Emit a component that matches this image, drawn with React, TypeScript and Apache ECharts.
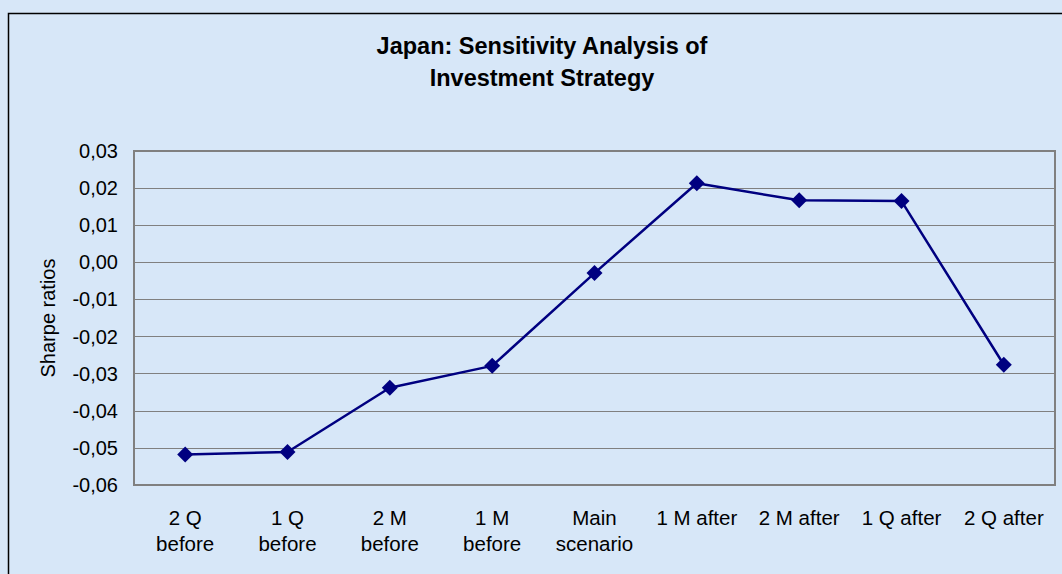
import React, { useEffect, useRef } from "react";
import * as echarts from "echarts";

const categories = [
  "2 Q\nbefore",
  "1 Q\nbefore",
  "2 M\nbefore",
  "1 M\nbefore",
  "Main\nscenario",
  "1 M after",
  "2 M after",
  "1 Q after",
  "2 Q after",
];
const sharpeRatios = [-0.0518, -0.0511, -0.0338, -0.0279, -0.0029, 0.0213, 0.0167, 0.0165, -0.0276];
const titleText = "Japan: Sensitivity Analysis of\nInvestment Strategy";
const yAxisName = "Sharpe ratios";

export default function App() {
  const ref = useRef<HTMLDivElement>(null);
  useEffect(() => {
    if (!ref.current) return;
    const chart = echarts.init(ref.current, null, { renderer: "svg" });
    const font = "'Liberation Sans', Arial, sans-serif";
    chart.setOption({
      animation: false,
      backgroundColor: "#d7e7f8",
      textStyle: { fontFamily: font },
      graphic: [
        {
          type: "rect",
          shape: { x: 8.5, y: 13.5, width: 1100, height: 600 },
          style: { fill: "none", stroke: "#000", lineWidth: 1.5 },
          silent: true,
        },
        {
          type: "text",
          x: 542,
          y: 30,
          silent: true,
          style: {
            text: titleText,
            align: "center",
            verticalAlign: "top",
            fontSize: 23.5,
            fontWeight: "bold",
            lineHeight: 32,
            fontFamily: font,
            fill: "#000",
          },
        },
      ],
      grid: {
        left: 134,
        top: 151,
        right: 7,
        bottom: 89,
        show: true,
        borderColor: "#808080",
        borderWidth: 2,
        backgroundColor: "transparent",
      },
      xAxis: {
        type: "category",
        data: categories,
        boundaryGap: true,
        axisLine: { show: false },
        axisTick: { show: false },
        axisLabel: {
          color: "#000",
          fontSize: 20.5,
          lineHeight: 26,
          margin: 19,
          interval: 0,
          fontFamily: font,
        },
      },
      yAxis: {
        type: "value",
        min: -0.06,
        max: 0.03,
        interval: 0.01,
        name: yAxisName,
        nameLocation: "middle",
        nameGap: 76,
        nameRotate: 90,
        nameTextStyle: { color: "#000", fontSize: 20, fontFamily: font },
        axisLine: { show: false },
        axisTick: { show: false },
        splitLine: { lineStyle: { color: "#808080", width: 1 } },
        axisLabel: {
          color: "#000",
          fontSize: 20,
          margin: 16,
          fontFamily: font,
          formatter: (v: number) => (Math.abs(v) < 1e-9 ? "0,00" : v.toFixed(2).replace(".", ",")),
        },
      },
      series: [
        {
          type: "line",
          data: sharpeRatios,
          symbol: "diamond",
          symbolSize: 16,
          lineStyle: { color: "#000080", width: 2.5 },
          itemStyle: { color: "#000080" },
        },
      ],
    });
    return () => chart.dispose();
  }, []);
  return (
    <div
      ref={ref}
      style={{ position: "absolute", left: 0, top: 0, width: 1062, height: 574 }}
    />
  );
}
